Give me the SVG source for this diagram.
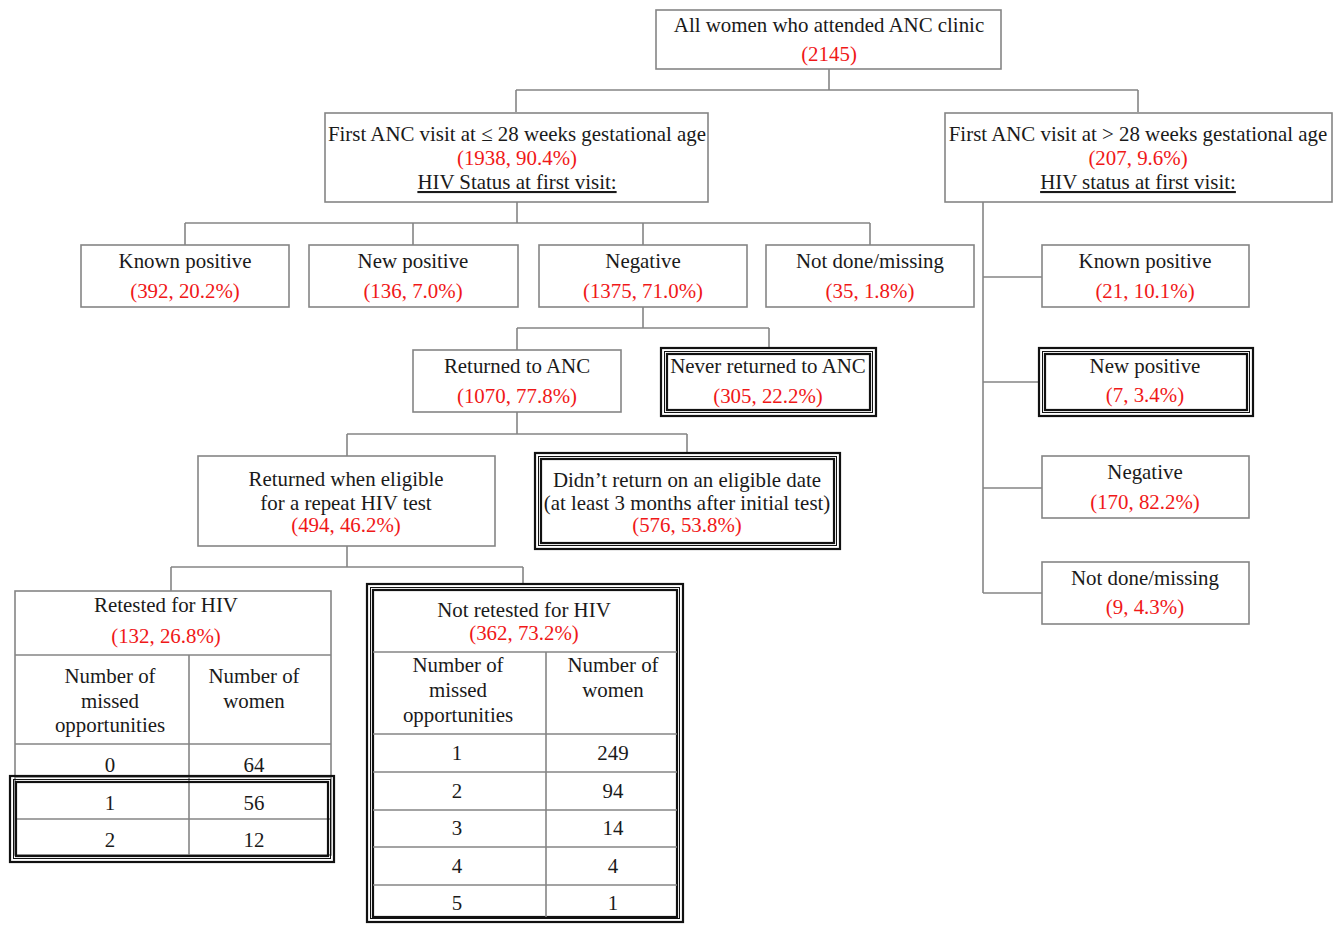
<svg xmlns="http://www.w3.org/2000/svg" width="1339" height="925" viewBox="0 0 1339 925">
<style>
text{font-family:"Liberation Serif","Times New Roman",serif;font-size:20.9px;fill:#1a1a1a;text-anchor:middle}
.r{fill:#f01818}
.u{text-decoration:underline}
.box{fill:#fff;stroke:#858585;stroke-width:1.6}
.grid{fill:none;stroke:#858585;stroke-width:1.6}
.c{fill:none;stroke:#858585;stroke-width:1.6}
.t1{fill:none;stroke:#111;stroke-width:2.2}
.t2{fill:none;stroke:#111;stroke-width:1}
</style>
<rect width="1339" height="925" fill="#fff"/>
<g id="connectors">
<path class="c" d="M829,69V90M516,90H1138M516,90V112M1138,90V112"/>
<path class="c" d="M517,202V223M185,223H870M185,223V245M413,223V245M643,223V245M870,223V245"/>
<path class="c" d="M643,307V328M517,328H769M517,328V350M769,328V347"/>
<path class="c" d="M517,412V434M347,434H687M347,434V456M687,434V452"/>
<path class="c" d="M347,546V567M171,567H523M171,567V591M523,567V583"/>
<path class="c" d="M983,202V593M983,277H1042M983,382H1038M983,488H1042M983,593H1042"/>
</g>
<g id="root">
<rect class="box" x="656" y="10" width="345" height="59"/>
<text x="829" y="32">All women who attended ANC clinic</text>
<text class="r" x="829" y="61">(2145)</text>
</g>
<g id="early">
<rect class="box" x="325" y="113" width="383" height="89"/>
<text x="517" y="141">First ANC visit at ≤ 28 weeks gestational age</text>
<text class="r" x="517" y="165">(1938, 90.4%)</text>
<text class="u" x="517" y="189">HIV Status at first visit:</text>
</g>
<g id="late">
<rect class="box" x="945" y="113" width="387" height="89"/>
<text x="1138" y="141">First ANC visit at &gt; 28 weeks gestational age</text>
<text class="r" x="1138" y="165">(207, 9.6%)</text>
<text class="u" x="1138" y="189">HIV status at first visit:</text>
</g>
<g id="known-pos-early">
<rect class="box" x="81" y="245" width="208" height="62"/>
<text x="185" y="268">Known positive</text>
<text class="r" x="185" y="298">(392, 20.2%)</text>
</g>
<g id="new-pos-early">
<rect class="box" x="309" y="245" width="209" height="62"/>
<text x="413" y="268">New positive</text>
<text class="r" x="413" y="298">(136, 7.0%)</text>
</g>
<g id="negative-early">
<rect class="box" x="539" y="245" width="208" height="62"/>
<text x="643" y="268">Negative</text>
<text class="r" x="643" y="298">(1375, 71.0%)</text>
</g>
<g id="notdone-early">
<rect class="box" x="766" y="245" width="208" height="62"/>
<text x="870" y="268">Not done/missing</text>
<text class="r" x="870" y="298">(35, 1.8%)</text>
</g>
<g id="returned">
<rect class="box" x="413" y="350" width="208" height="62"/>
<text x="517" y="373">Returned to ANC</text>
<text class="r" x="517" y="403">(1070, 77.8%)</text>
</g>
<g id="never-returned">
<rect fill="#fff" x="660" y="347" width="217" height="70"/>
<rect class="t1" x="661" y="348" width="215" height="68"/>
<rect class="t2" x="664.5" y="351.5" width="208" height="61"/>
<rect class="t1" x="667" y="354" width="203" height="56"/>
<text x="768" y="373">Never returned to ANC</text>
<text class="r" x="768" y="403">(305, 22.2%)</text>
</g>
<g id="returned-eligible">
<rect class="box" x="198" y="456" width="297" height="90"/>
<text x="346" y="486">Returned when eligible</text>
<text x="346" y="510">for a repeat HIV test</text>
<text class="r" x="346" y="532">(494, 46.2%)</text>
</g>
<g id="not-return-eligible">
<rect fill="#fff" x="534" y="452" width="307" height="98"/>
<rect class="t1" x="535" y="453" width="305" height="96"/>
<rect class="t2" x="538.5" y="456.5" width="298" height="89"/>
<rect class="t1" x="541" y="459" width="293" height="84"/>
<text x="687" y="487">Didn’t return on an eligible date</text>
<text x="687" y="510">(at least 3 months after initial test)</text>
<text class="r" x="687" y="532">(576, 53.8%)</text>
</g>
<g id="retested">
<rect class="box" x="15" y="591" width="316" height="264"/>
<path class="grid" d="M15,655H331M189,655V855M15,744H331M15,777H331M15,819H331"/>
<text x="166" y="612">Retested for HIV</text>
<text class="r" x="166" y="643">(132, 26.8%)</text>
<text x="110" y="683">Number of</text>
<text x="110" y="708">missed</text>
<text x="110" y="732">opportunities</text>
<text x="254" y="683">Number of</text>
<text x="254" y="708">women</text>
<text x="110" y="772">0</text>
<text x="254" y="772">64</text>
<rect class="t1" x="10" y="776" width="324" height="86"/>
<rect class="t2" x="13.5" y="779.5" width="317" height="79"/>
<rect class="t1" x="16" y="782" width="312" height="74"/>
<text x="110" y="810">1</text>
<text x="254" y="810">56</text>
<text x="110" y="847">2</text>
<text x="254" y="847">12</text>
</g>
<g id="not-retested">
<rect fill="#fff" x="366" y="583" width="318" height="340"/>
<rect class="t1" x="367" y="584" width="316" height="338"/>
<rect class="t2" x="370.5" y="587.5" width="309" height="331"/>
<rect class="t1" x="373" y="590" width="304" height="327"/>
<path class="grid" d="M373,652H677M546,652V917M373,734H677M373,772H677M373,810H677M373,847H677M373,885H677"/>
<text x="524" y="617">Not retested for HIV</text>
<text class="r" x="524" y="640">(362, 73.2%)</text>
<text x="458" y="672">Number of</text>
<text x="458" y="697">missed</text>
<text x="458" y="722">opportunities</text>
<text x="613" y="672">Number of</text>
<text x="613" y="697">women</text>
<text x="457" y="760">1</text>
<text x="613" y="760">249</text>
<text x="457" y="798">2</text>
<text x="613" y="798">94</text>
<text x="457" y="835">3</text>
<text x="613" y="835">14</text>
<text x="457" y="873">4</text>
<text x="613" y="873">4</text>
<text x="457" y="910">5</text>
<text x="613" y="910">1</text>
</g>
<g id="known-pos-late">
<rect class="box" x="1042" y="245" width="207" height="62"/>
<text x="1145" y="268">Known positive</text>
<text class="r" x="1145" y="298">(21, 10.1%)</text>
</g>
<g id="new-pos-late">
<rect fill="#fff" x="1038" y="347" width="216" height="70"/>
<rect class="t1" x="1039" y="348" width="214" height="68"/>
<rect class="t2" x="1042.5" y="351.5" width="207" height="61"/>
<rect class="t1" x="1045" y="354" width="202" height="56"/>
<text x="1145" y="373">New positive</text>
<text class="r" x="1145" y="402">(7, 3.4%)</text>
</g>
<g id="negative-late">
<rect class="box" x="1042" y="456" width="207" height="62"/>
<text x="1145" y="479">Negative</text>
<text class="r" x="1145" y="509">(170, 82.2%)</text>
</g>
<g id="notdone-late">
<rect class="box" x="1042" y="562" width="207" height="62"/>
<text x="1145" y="585">Not done/missing</text>
<text class="r" x="1145" y="614">(9, 4.3%)</text>
</g>
</svg>
